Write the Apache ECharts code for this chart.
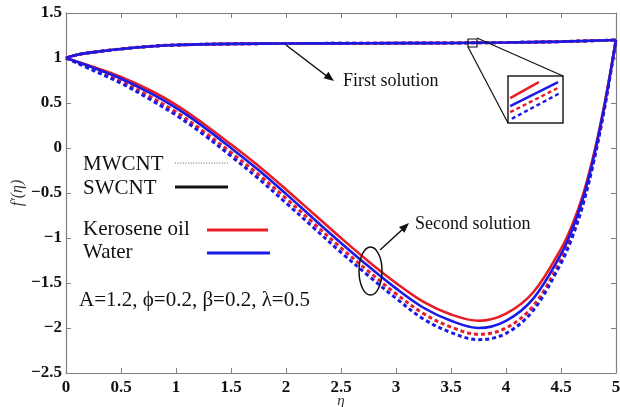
<!DOCTYPE html>
<html>
<head>
<meta charset="utf-8">
<script src="https://cdn.jsdelivr.net/npm/echarts@6/dist/echarts.min.js"></script>
<style>
  html, body { margin: 0; padding: 0; background: #fff; }
  #main { width: 620px; height: 407px; }
</style>
</head>
<body>
<div id="main"></div>
<script>
// data
var eta = [0, 0.25, 0.5, 0.75, 1, 1.25, 1.5, 1.75, 2, 2.25, 2.5, 2.75, 3, 3.25, 3.5, 3.75, 4, 4.25, 4.5, 4.6, 4.7, 4.8, 4.9, 5];
var keroSW = [1, 0.90, 0.79, 0.65, 0.48, 0.27, 0.04, -0.20, -0.46, -0.73, -1.00, -1.26, -1.50, -1.71, -1.85, -1.92, -1.84, -1.60, -1.12, -0.86, -0.52, -0.06, 0.52, 1.2];
var waterSW = [1, 0.89, 0.77, 0.62, 0.445, 0.235, 0.00, -0.245, -0.51, -0.785, -1.055, -1.315, -1.56, -1.775, -1.92, -2.00, -1.92, -1.67, -1.18, -0.91, -0.56, -0.09, 0.50, 1.2];
var keroMW = [1, 0.87, 0.74, 0.58, 0.40, 0.185, -0.05, -0.295, -0.56, -0.835, -1.11, -1.37, -1.62, -1.84, -1.99, -2.07, -2.00, -1.75, -1.24, -0.96, -0.60, -0.12, 0.48, 1.2];
var waterMW = [1, 0.86, 0.72, 0.55, 0.365, 0.15, -0.09, -0.34, -0.61, -0.885, -1.16, -1.42, -1.67, -1.90, -2.05, -2.13, -2.06, -1.80, -1.28, -1.00, -0.63, -0.14, 0.47, 1.2];

// first solution, all four curves lie on top of each other
var etaFirst = [0, 0.1, 0.25, 0.5, 0.75, 1, 1.5, 2, 2.5, 3, 3.5, 4, 4.5, 5];
var firstSol = [1, 1.035, 1.065, 1.1, 1.128, 1.145, 1.157, 1.161, 1.163, 1.165, 1.167, 1.172, 1.182, 1.2];

// zoomed inset (local 0..1 coordinates)
var insetKeroSW = [[0.04, 0.53], [0.56, 0.87]];
var insetWaterSW = [[0.04, 0.36], [0.91, 0.87]];
var insetKeroMW = [[0.04, 0.23], [0.95, 0.77]];
var insetWaterMW = [[0.07, 0.09], [0.95, 0.64]];

var xTicks = 0.5, yTicks = 0.5;

var RED = '#e81c24', BLUE = '#1a1ae6';
var SERIF = '"Liberation Serif", "DejaVu Serif", serif';

function pairs(xs, ys) {
    return xs.map(function (x, i) { return [x, ys[i]]; });
}

function curve(name, xs, ys, color, dashed) {
    return {
        name: name,
        type: 'line',
        xAxisIndex: 0,
        yAxisIndex: 0,
        data: pairs(xs, ys),
        showSymbol: false,
        smooth: 0.35,
        lineStyle: { color: color, width: dashed ? 3 : 2.6, type: dashed ? [4, 3] : 'solid' },
        z: 3
    };
}

function insetLine(pts, color, dashed) {
    return {
        type: 'line',
        xAxisIndex: 2,
        yAxisIndex: 2,
        data: pts,
        showSymbol: false,
        lineStyle: { color: color, width: 2.4, type: dashed ? [4, 3] : 'solid' },
        z: 6
    };
}

var axisGray = '#808080';
var minusFmt = function (v) { return String(v).replace('-', '\u2212'); };
var frameLine = { onZero: false, lineStyle: { color: axisGray, width: 1.2 } };
var frameTick = { inside: true, length: 5, lineStyle: { color: axisGray } };

var chart = echarts.init(document.getElementById('main'));

var option = {
    animation: false,
    backgroundColor: '#fff',
    grid: [
        { left: 66, right: 4, top: 13, bottom: 34, outerBoundsMode: 'none' },
        { left: 508, top: 76, width: 55, height: 47, outerBoundsMode: 'none', show: true, borderColor: '#222', borderWidth: 1.5, backgroundColor: '#fff', z: 4 }
    ],
    xAxis: [
        {
            type: 'value', gridIndex: 0, min: 0, max: 5, interval: xTicks,
            name: '\u03b7', nameLocation: 'middle', nameGap: 21, nameMoveOverlap: false,
            nameTextStyle: { fontFamily: SERIF, fontStyle: 'italic', fontSize: 15, color: '#333' },
            axisLine: frameLine, axisTick: frameTick,
            axisLabel: { margin: 6, fontFamily: SERIF, fontWeight: 'bold', fontSize: 17, color: '#111', formatter: minusFmt },
            splitLine: { show: false }
        },
        {
            type: 'value', gridIndex: 0, position: 'top', min: 0, max: 5, interval: xTicks,
            axisLine: frameLine, axisTick: frameTick,
            axisLabel: { show: false },
            splitLine: { show: false }
        },
        { type: 'value', gridIndex: 1, min: 0, max: 1, show: false }
    ],
    yAxis: [
        {
            type: 'value', gridIndex: 0, min: -2.5, max: 1.5, interval: yTicks,
            name: 'f\u2032(\u03b7)', nameLocation: 'middle', nameGap: 40, nameMoveOverlap: false,
            nameTextStyle: { fontFamily: SERIF, fontStyle: 'italic', fontSize: 16, color: '#333' },
            axisLine: frameLine, axisTick: frameTick,
            axisLabel: { margin: 4, fontFamily: SERIF, fontWeight: 'bold', fontSize: 17, color: '#111', formatter: minusFmt },
            splitLine: { show: false }
        },
        {
            type: 'value', gridIndex: 0, position: 'right', min: -2.5, max: 1.5, interval: yTicks,
            axisLine: frameLine, axisTick: frameTick,
            axisLabel: { show: false },
            splitLine: { show: false }
        },
        { type: 'value', gridIndex: 1, min: 0, max: 1, show: false }
    ],
    series: [
        curve('Kerosene MWCNT', eta, keroMW, RED, true),
        curve('Water MWCNT', eta, waterMW, BLUE, true),
        curve('Kerosene SWCNT', eta, keroSW, RED, false),
        curve('Water SWCNT', eta, waterSW, BLUE, false),
        curve('Kerosene MWCNT 1st', etaFirst, firstSol, RED, true),
        curve('Water MWCNT 1st', etaFirst, firstSol, BLUE, true),
        curve('Kerosene SWCNT 1st', etaFirst, firstSol, RED, false),
        curve('Water SWCNT 1st', etaFirst, firstSol, BLUE, false),
        insetLine(insetKeroSW, RED, false),
        insetLine(insetWaterSW, BLUE, false),
        insetLine(insetKeroMW, RED, true),
        insetLine(insetWaterMW, BLUE, true)
    ],
    graphic: [
        // zoom box and its leader lines
        { type: 'rect', shape: { x: 468, y: 39, width: 9, height: 8 }, style: { fill: 'none', stroke: '#111', lineWidth: 1.2 }, z: 10 },
        { type: 'line', shape: { x1: 477, y1: 38, x2: 563, y2: 76 }, style: { stroke: '#111', lineWidth: 1.2 }, z: 10 },
        { type: 'line', shape: { x1: 468, y1: 47, x2: 508, y2: 123 }, style: { stroke: '#111', lineWidth: 1.2 }, z: 10 },

        // first solution arrow + label
        { type: 'line', shape: { x1: 286, y1: 45, x2: 328, y2: 77 }, style: { stroke: '#111', lineWidth: 1.5 }, z: 10 },
        { type: 'polygon', shape: { points: [[334, 81], [323.6, 78.2], [328.4, 71.8]] }, style: { fill: '#111' }, z: 10 },
        { type: 'text', x: 343, y: 81, style: { text: 'First solution', font: '18px ' + SERIF, fill: '#111', verticalAlign: 'middle' }, z: 10 },

        // second solution ellipse, arrow, label
        { type: 'ellipse', shape: { cx: 370.5, cy: 271, rx: 11.5, ry: 24 }, style: { fill: 'none', stroke: '#111', lineWidth: 1.5 }, z: 10 },
        { type: 'line', shape: { x1: 380, y1: 250, x2: 404, y2: 228 }, style: { stroke: '#111', lineWidth: 1.5 }, z: 10 },
        { type: 'polygon', shape: { points: [[409, 223], [404.4, 232.7], [399, 226.9]] }, style: { fill: '#111' }, z: 10 },
        { type: 'text', x: 415, y: 224, style: { text: 'Second solution', font: '18px ' + SERIF, fill: '#111', verticalAlign: 'middle' }, z: 10 },

        // hand-made legend
        { type: 'text', x: 83, y: 164, style: { text: 'MWCNT', font: '21px ' + SERIF, fill: '#111', verticalAlign: 'middle' }, z: 10 },
        { type: 'line', shape: { x1: 175, y1: 163, x2: 228, y2: 163 }, style: { stroke: '#666', lineWidth: 1.2, lineDash: [1, 1.6] }, z: 10 },
        { type: 'text', x: 83, y: 188, style: { text: 'SWCNT', font: '21px ' + SERIF, fill: '#111', verticalAlign: 'middle' }, z: 10 },
        { type: 'line', shape: { x1: 175, y1: 187, x2: 228, y2: 187 }, style: { stroke: '#111', lineWidth: 3 }, z: 10 },
        { type: 'text', x: 83, y: 229, style: { text: 'Kerosene oil', font: '21px ' + SERIF, fill: '#111', verticalAlign: 'middle' }, z: 10 },
        { type: 'line', shape: { x1: 207, y1: 230, x2: 268, y2: 230 }, style: { stroke: RED, lineWidth: 3 }, z: 10 },
        { type: 'text', x: 83, y: 252, style: { text: 'Water', font: '21px ' + SERIF, fill: '#111', verticalAlign: 'middle' }, z: 10 },
        { type: 'line', shape: { x1: 207, y1: 253, x2: 270, y2: 253 }, style: { stroke: BLUE, lineWidth: 3 }, z: 10 },

        { type: 'text', x: 79, y: 300, style: { text: 'A=1.2, \u03d5=0.2, \u03b2=0.2, \u03bb=0.5', font: '21px ' + SERIF, fill: '#111', verticalAlign: 'middle' }, z: 10 }
    ]
};

chart.setOption(option);
</script>
</body>
</html>
